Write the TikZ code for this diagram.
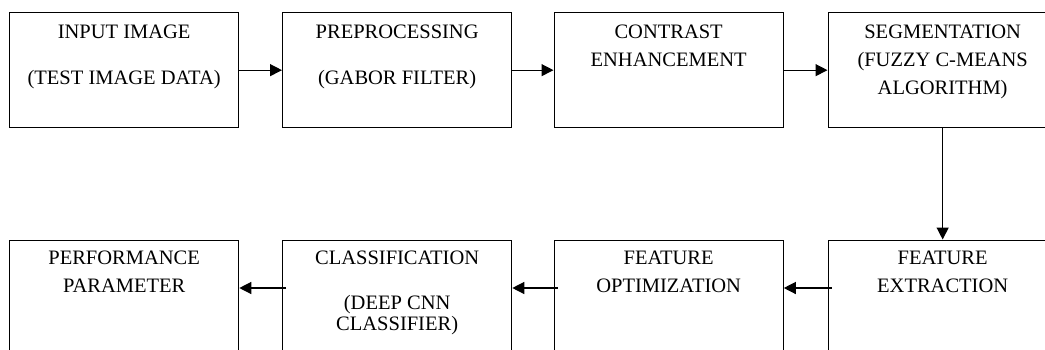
\documentclass[tikz,border=0pt]{standalone}
\usepackage{fontspec}
\setmainfont{Liberation Serif}
\usetikzlibrary{arrows.meta,positioning}
\begin{document}
\begin{tikzpicture}[x=1pt,y=-1pt,
  stage/.style={draw=black, line width=1.3pt, minimum width=229pt,
    minimum height=115pt, inner sep=0pt, anchor=north west},
  caption/.style={anchor=north, align=center, inner sep=0pt,
    font=\fontsize{20.5}{21}\selectfont, text=black},
  flow/.style={line width=1.3pt, -{Triangle[length=12pt,width=12pt]}}]
\clip (0,0) rectangle (1045,349);

% processing stages
\node[stage] (inp)  at (9,12)      {};
\node[stage] (pre)  at (282,12)    {};
\node[stage] (con)  at (553.5,12)  {};
\node[stage] (seg)  at (827.5,12)  {};
\node[stage] (perf) at (9,239.5)   {};
\node[stage] (cls)  at (282,239.5) {};
\node[stage] (opt)  at (553.5,239.5) {};
\node[stage] (ext)  at (827.5,239.5) {};

% stage captions
\node[caption, below=12.5pt of inp.north] (inp-t) {INPUT IMAGE\\[25pt](TEST IMAGE DATA)};
\node[caption, below=12.5pt of pre.north] (pre-t) {PREPROCESSING\\[25pt](GABOR FILTER)};
\node[caption, below=12.5pt of con.north] (con-t) {CONTRAST\\[7pt]ENHANCEMENT};
\node[caption, below=12.5pt of seg.north] (seg-t) {SEGMENTATION\\[7pt](FUZZY C-MEANS\\[7pt]ALGORITHM)};
\node[caption, below=11pt of perf.north] (perf-t) {PERFORMANCE\\[7pt]PARAMETER};
\node[caption, below=11pt of cls.north] (cls-t) {CLASSIFICATION\\[24.5pt](DEEP CNN\\CLASSIFIER)};
\node[caption, below=11pt of opt.north] (opt-t) {FEATURE\\[7pt]OPTIMIZATION};
\node[caption, below=11pt of ext.north] (ext-t) {FEATURE\\[7pt]EXTRACTION};

% flow of the pipeline
\draw[flow] (inp.east) -- (pre.west);
\draw[flow] (pre.east) -- (con.west);
\draw[flow] (con.east) -- (seg.west);
\draw[flow] (seg.south) -- (ext.north);
\draw[flow, shorten <=-4pt] ([yshift=-48.5pt]ext.north west) -- ([yshift=-48.5pt]opt.north east);
\draw[flow, shorten <=-4pt] ([yshift=-48.5pt]opt.north west) -- ([yshift=-48.5pt]cls.north east);
\draw[flow, shorten <=-4pt] ([yshift=-48.5pt]cls.north west) -- ([yshift=-48.5pt]perf.north east);
\end{tikzpicture}
\end{document}
